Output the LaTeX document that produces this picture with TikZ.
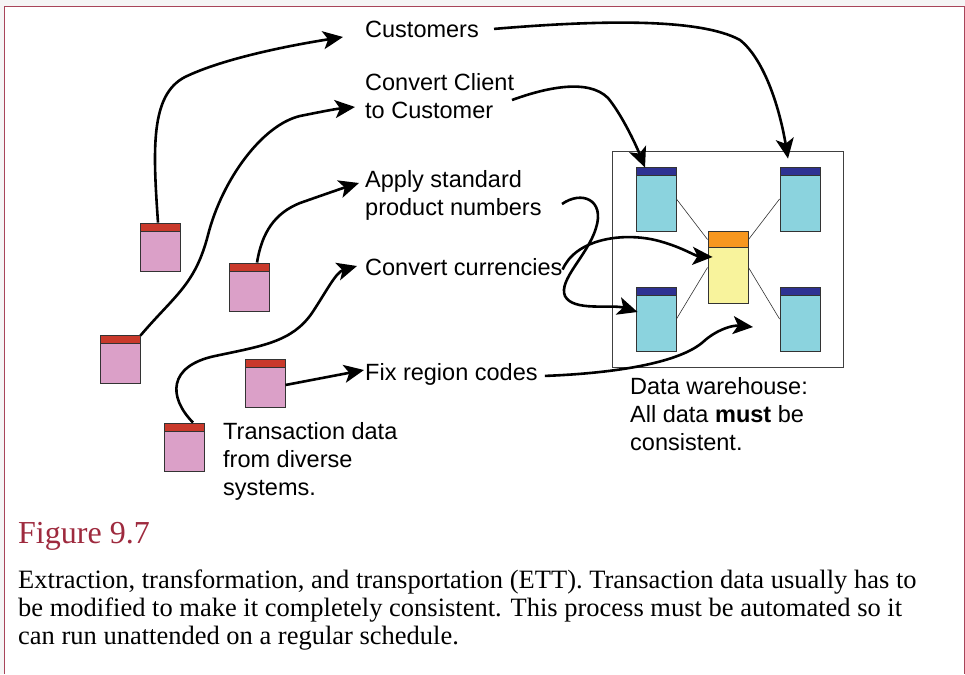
\documentclass[tikz,border=0pt]{standalone}
\usepackage{fontspec}
\setmainfont{Liberation Serif}
\newfontfamily\diagfont{Liberation Sans}
\usetikzlibrary{arrows.meta,calc}

\definecolor{frameRed}{HTML}{A8455A}
\definecolor{capRed}{HTML}{9E2A3E}
\definecolor{srcPink}{HTML}{DBA0C8}
\definecolor{srcRed}{HTML}{C9392B}
\definecolor{dwCyan}{HTML}{8BD3DE}
\definecolor{dwNavy}{HTML}{2E3192}
\definecolor{hubYellow}{HTML}{F8F39C}
\definecolor{hubOrange}{HTML}{F7971F}

\begin{document}
\begin{tikzpicture}[x=1pt,y=-1pt,
  tbl/.style n args={4}{draw=black!80, line width=0.9pt, fill=#1,
    minimum width=40pt, minimum height=#3, inner sep=0pt,
    path picture={
      \fill[#2] (path picture bounding box.north west) rectangle
        ([yshift=-#4]path picture bounding box.north east);
      \draw[black!80, line width=0.9pt]
        ([yshift=-#4]path picture bounding box.north west) --
        ([yshift=-#4]path picture bounding box.north east);}},
  srcbox/.style={tbl={srcPink}{srcRed}{48pt}{8pt}},
  dwbox/.style={tbl={dwCyan}{dwNavy}{64pt}{8pt}},
  hubbox/.style={tbl={hubYellow}{hubOrange}{72pt}{16pt}},
  lbl/.style={font=\diagfont\fontsize{23.5}{28}\selectfont, inner sep=0pt,
    anchor=base west, align=left},
  conn/.style={line width=2.6pt, -{Stealth[length=20pt,width=18pt,inset=5pt]}},
  link/.style={line width=0.6pt, black!80}]

% page and frame
\useasboundingbox (0,0) rectangle (965,674);
\fill[gray!8] (0,0) rectangle (965,674);
\fill[white] (4,7) rectangle (964,674);
\draw[frameRed, line width=1pt] (4,674) -- (4,7) -- (964,7) -- (964,674);

% source tables
\node[srcbox] (s1) at (160,247) {};
\node[srcbox] (s2) at (249,287) {};
\node[srcbox] (s3) at (120,359) {};
\node[srcbox] (s4) at (265,383) {};
\node[srcbox] (s5) at (184,447) {};

% warehouse
\node[draw=black!75, line width=0.9pt, minimum width=231pt,
  minimum height=216pt, inner sep=0pt] (dw) at (727.5,259) {};
\node[dwbox] (c1) at (656,199) {};
\node[dwbox] (c2) at (800,199) {};
\node[dwbox] (c3) at (656,319) {};
\node[dwbox] (c4) at (800,319) {};
\node[hubbox] (hub) at (728,267) {};
\draw[link] (c1.east) -- ($(hub.north west)+(0,9)$);
\draw[link] (c2.west) -- ($(hub.north east)+(0,9)$);
\draw[link] (c3.east) -- ($(hub.south west)+(0,-36)$);
\draw[link] (c4.west) -- ($(hub.south east)+(0,-36)$);

% labels (multi-line labels sit on the baseline of their last line)
\node[lbl] (cust) at (365,38) {Customers};
\node[lbl] (cc) at (365,118) {Convert Client\\to Customer};
\node[lbl] (asp) at (365,215) {Apply standard\\product numbers};
\node[lbl] (curr) at (365,275) {Convert currencies};
\node[lbl] (fix) at (365,380) {Fix region codes};
\node[lbl] (dwl) at (630,450) {Data warehouse:\\All data \textbf{must} be\\consistent.};
\node[lbl] (srcl) at (223,495) {Transaction data\\from diverse\\systems.};

% arrow ends next to the labels
\coordinate (ccIn) at (355,107);
\coordinate (ccOut) at (512,100);
\coordinate (aspIn) at (359,183);
\coordinate (aspOut) at (562,204);
\coordinate (dwIn) at (753,327);

% source tables to transformations
\draw[conn] ($(s1.north)+(-2,0)$) .. controls (153,150) and (150,95) .. (185,77)
  .. controls (220,60) and (280,47) .. ($(cust.base west)+(-22,-1)$);
\draw[conn] ($(s3.north east)+(0,1)$) .. controls (175,295) and (195,285) .. (208,235)
  .. controls (222,180) and (262,125) .. (300,116)
  .. controls (320,112) and (335,109) .. (ccIn);
\draw[conn] ($(s2.north)+(8,0)$) .. controls (262,232) and (275,213) .. (300,203)
  .. controls (320,196) and (340,189) .. (aspIn);
\draw[conn] ($(s5.north)+(9,0)$) .. controls (168,397) and (168,366) .. (215,356)
  .. controls (262,346) and (292,342) .. (312,313)
  .. controls (326,292) and (336,272) .. ($(curr.base west)+(-8,-9)$);
\draw[conn] ($(s4.east)+(0,2)$) -- ($(fix.base west)+(-1,-10)$);

% transformations into the warehouse
\draw[conn] ($(cust.east)+(15,-1)$) .. controls (600,20) and (700,18) .. (740,40)
  .. controls (765,60) and (780,110) .. ($(c2.north)+(-12,-8)$);
\draw[conn] (ccOut) .. controls (545,88) and (588,78) .. (608,98)
  .. controls (622,115) and (636,145) .. ($(c1.north)+(-11,1)$);
\draw[conn] (aspOut) .. controls (582,190) and (605,200) .. (596,228)
  .. controls (588,255) and (558,280) .. (565,296)
  .. controls (573,312) and (612,304) .. ($(c3.west)+(2,-7)$);
\draw[conn] ($(curr.east)+(0,3)$) .. controls (575,240) and (620,232) .. (655,240)
  .. controls (680,246) and (695,256) .. ($(hub.west)+(5,-10)$);
\draw[conn] ($(fix.east)+(7,2)$) .. controls (620,373) and (680,362) .. (703,342)
  .. controls (716,330) and (732,325) .. (dwIn);

% caption
\node[font=\color{capRed}\fontsize{32}{38}\selectfont, anchor=base west,
  inner sep=0pt] (fig) at (18,543) {Figure 9.7};
\node[font=\fontsize{26.5}{28}\selectfont, anchor=base west, inner sep=0pt,
  align=left] (cap) at (18,644)
  {Extraction, transformation, and transportation (ETT). Transaction data usually has to\\
   be modified to make it completely consistent. This process must be automated so it\\
   can run unattended on a regular schedule.};
\end{tikzpicture}
\end{document}
